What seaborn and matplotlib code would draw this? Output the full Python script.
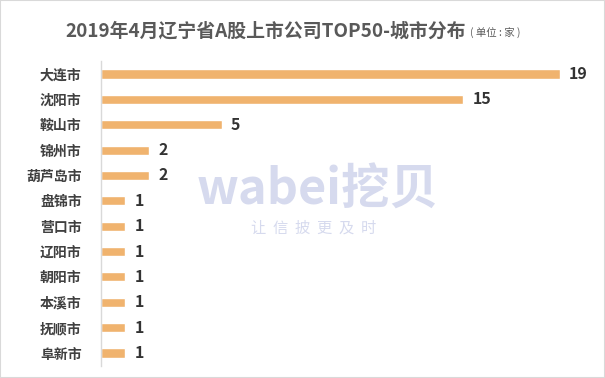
import matplotlib
matplotlib.use("Agg")
import matplotlib.pyplot as plt
import seaborn as sns
import pandas as pd
from matplotlib.patches import Rectangle

cities = ["大连市", "沈阳市", "鞍山市", "锦州市", "葫芦岛市", "盘锦市", "营口市", "辽阳市", "朝阳市", "本溪市", "抚顺市", "阜新市"]
counts = [19, 15, 5, 2, 2, 1, 1, 1, 1, 1, 1, 1]

sns.set_theme(style="white")
plt.rcParams['font.family'] = ['Noto Sans CJK SC', 'DejaVu Sans']

df = pd.DataFrame({"city": cities, "count": counts})

fig = plt.figure(figsize=(6.05, 3.78), dpi=100)
ax = fig.add_axes([101/605, 1-365.7/378, (560-101)/605, (365.7-61.3)/378])
sns.barplot(data=df, x="count", y="city", color="#F0B36E", width=0.36, ax=ax, saturation=1)
ax.set_xlim(0, 19)
ax.set_ylim(11.5, -0.5)
ax.set_xlabel("")
ax.set_ylabel("")
ax.set_xticks([])
for s in ["top", "right", "bottom"]:
    ax.spines[s].set_visible(False)
ax.spines["left"].set_color("#D9D9D9")
ax.spines["left"].set_linewidth(1)
ax.tick_params(axis="y", length=0, pad=14)
for lab in ax.get_yticklabels():
    lab.set_fontsize(10)
    lab.set_fontweight("bold")
    lab.set_color("#404040")

for i, v in enumerate(counts):
    ax.text(v + 0.38, i, str(v), va="center", ha="left", fontsize=11.5, fontweight="bold",
            color="#333333", clip_on=False)

# watermark
fig.text(197/605, 1-190/378, "wabei挖贝", ha="left", va="center", fontsize=35,
         fontweight="bold", color="#D6DAEE", zorder=0)
fig.text(314/605, 1-228/378, "让  信  披  更  及  时", ha="center", va="center", fontsize=11,
         color="#D6DAEE", zorder=0)

fig.text(65/605, 1-31/378, "2019年4月辽宁省A股上市公司TOP50-城市分布", ha="left", va="center",
         fontsize=13.6, fontweight="bold", color="#595959")
fig.text(470/605, 1-33/378, "( 单位 : 家 )", ha="left", va="center", fontsize=7.5,
         color="#595959")

fig.patches.append(Rectangle((0, 0), 1, 1, transform=fig.transFigure, fill=False,
                             edgecolor="#D9D9D9", linewidth=1.5))

fig.savefig("out.png", dpi=100)
